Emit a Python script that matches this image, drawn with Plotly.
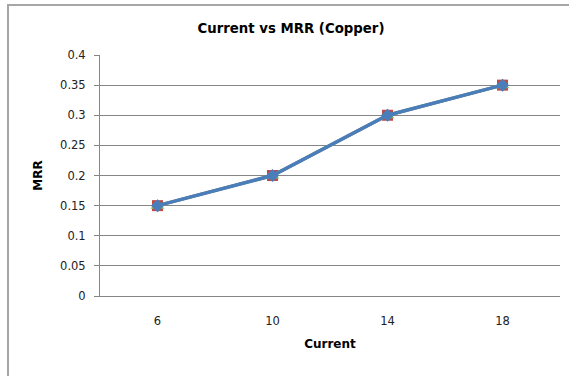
import plotly.graph_objects as go

categories = ["6", "10", "14", "18"]
series_red = [0.15, 0.20, 0.30, 0.35]
series_green = [0.15, 0.20, 0.30, 0.35]
series_blue = [0.15, 0.20, 0.30, 0.35]
y_ticks = [0, 0.05, 0.1, 0.15, 0.2, 0.25, 0.3, 0.35, 0.4]
y_labels = ["0", "0.05", "0.1", "0.15", "0.2", "0.25", "0.3", "0.35", "0.4"]

fig = go.Figure()
fig.add_trace(go.Scatter(x=categories, y=series_red, mode="lines+markers",
                         line=dict(color="#BE4B48", width=3),
                         marker=dict(symbol="square", size=11, color="#BE4B48")))
fig.add_trace(go.Scatter(x=categories, y=series_green, mode="lines+markers",
                         line=dict(color="#98B954", width=3),
                         marker=dict(symbol="triangle-up", size=12, color="#98B954")))
fig.add_trace(go.Scatter(x=categories, y=series_blue, mode="lines+markers",
                         line=dict(color="#4A7EBB", width=3.5),
                         marker=dict(symbol="diamond", size=10, color="#4A7EBB")))

W, H = 569, 376
l, r, t, b = 100, 9, 55, 80
pw, ph = W - l - r, H - t - b

def px(x):
    return (x - l) / pw

def py(y):
    return (H - b - y) / ph

fig.add_shape(type="rect", xref="paper", yref="paper",
              x0=px(8), x1=px(600), y0=py(420), y1=py(5),
              line=dict(color="#A6A6A6", width=2), layer="below")

fig.update_layout(
    width=W, height=H,
    margin=dict(l=l, r=r, t=t, b=b),
    paper_bgcolor="white", plot_bgcolor="white",
    showlegend=False,
    font=dict(family="DejaVu Sans", size=11.5, color="#222222"),
    title=dict(text="<b>Current vs MRR (Copper)</b>", xref="container", x=291 / W, xanchor="center",
               yref="container", y=1 - 28 / H, yanchor="middle",
               font=dict(family="DejaVu Sans", size=13.3, color="#000000")),
    xaxis=dict(type="category", showgrid=False, showline=True, linecolor="#868686",
               linewidth=1, ticks="", tickfont=dict(size=11.5, color="#222222"),
               title=dict(text="<b>Current</b>", font=dict(family="DejaVu Sans", size=12, color="#000000"), standoff=12),
               range=[-0.5, 3.5], ticklabelstandoff=14),
    yaxis=dict(range=[0, 0.4], tickvals=y_ticks, ticktext=y_labels, showgrid=True,
               gridcolor="#868686", gridwidth=1, showline=True, linecolor="#868686",
               linewidth=1, ticks="outside", ticklen=5, tickcolor="#868686",
               ticklabelstandoff=6,
               tickfont=dict(size=11.5, color="#222222"), zeroline=False,
               title=dict(text="<b>MRR</b>", font=dict(family="DejaVu Sans", size=12, color="#000000"), standoff=14)),
)

fig.write_html("out.html", config={"displayModeBar": False},
               post_script="document.body.style.margin='0';document.body.style.overflow='hidden';")
